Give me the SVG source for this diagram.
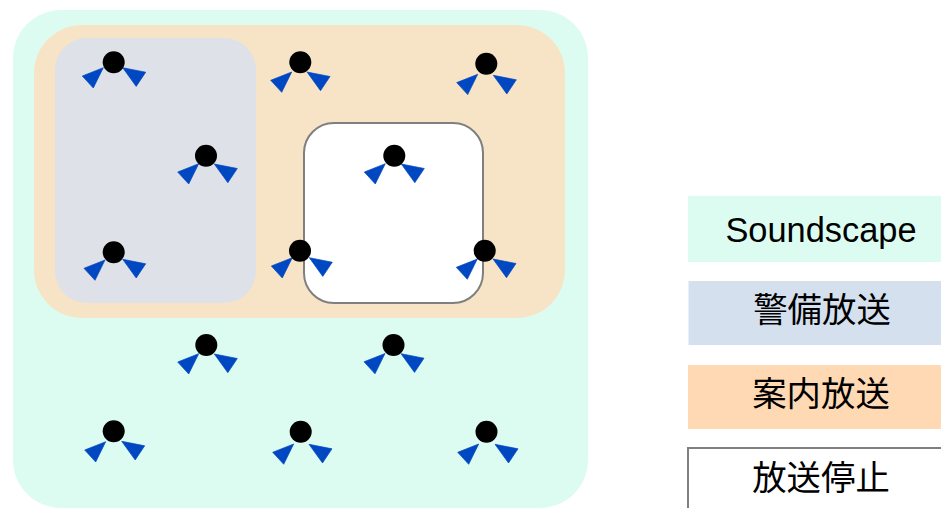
<svg xmlns="http://www.w3.org/2000/svg" width="941" height="508" viewBox="0 0 941 508">
<style>
.t{font-family:"Liberation Sans","Noto Sans CJK JP",sans-serif;font-size:34.4px;fill:#000;text-anchor:middle}
.j{font-size:34.4px}
.l{fill:#0047c2;stroke:#0047c2;stroke-width:.7px;stroke-linejoin:miter}
</style>
<defs>
<polygon id="tl" class="l" points="0,0 -21,8.3 -10,20.3"/>
<polygon id="tr" class="l" points="0,0 23,4.5 13.5,18.7"/>
<circle id="dot" r="11" fill="#000"/>
</defs>
<rect id="soundscape-area" x="13" y="10" width="575" height="498" rx="48" fill="#ddfcf1"/>
<rect id="guide-area" x="34" y="25" width="531" height="293" rx="48" fill="#f7e4c6"/>
<rect id="alert-area" x="55" y="38" width="201" height="265" rx="32" fill="#dee1e7"/>
<rect id="stop-area" x="304" y="123" width="179" height="180" rx="30" fill="#fff" stroke="#7f7f7f" stroke-width="2"/>
<g id="s1"><use href="#tl" x="103.3" y="67.7"/><use href="#tr" x="122.7" y="67.7"/><use href="#dot" x="113.7" y="62.3"/></g>
<g id="s2"><use href="#tl" x="291.7" y="72"/><use href="#tr" x="307" y="72"/><use href="#dot" x="300.3" y="62.3"/></g>
<g id="s3"><use href="#tl" x="477.7" y="74.3"/><use href="#tr" x="493.3" y="75.3"/><use href="#dot" x="486.3" y="63.7"/></g>
<g id="s4"><use href="#tl" x="198.7" y="163.7"/><use href="#tr" x="214.3" y="164"/><use href="#dot" x="206" y="155.7"/></g>
<g id="s5"><use href="#tl" x="385.3" y="163.7"/><use href="#tr" x="401.3" y="164"/><use href="#dot" x="394.3" y="155.7"/></g>
<g id="s6"><use href="#tl" x="105" y="260"/><use href="#tr" x="122.7" y="259.3"/><use href="#dot" x="113.7" y="252.3"/></g>
<g id="s7"><use href="#tl" x="292.3" y="257.7"/><use href="#tr" x="309.3" y="257.7"/><use href="#dot" x="300" y="250.7"/></g>
<g id="s8"><use href="#tl" x="477.3" y="259"/><use href="#tr" x="493" y="259"/><use href="#dot" x="484.7" y="250.7"/></g>
<g id="s9"><use href="#tl" x="198.7" y="353.7"/><use href="#tr" x="214.3" y="354"/><use href="#dot" x="206.3" y="345"/></g>
<g id="s10"><use href="#tl" x="385" y="353.5"/><use href="#tr" x="401" y="353.7"/><use href="#dot" x="393.5" y="345"/></g>
<g id="s11"><use href="#tl" x="105.7" y="441.7"/><use href="#tr" x="121.7" y="441.3"/><use href="#dot" x="113.7" y="431.3"/></g>
<g id="s12"><use href="#tl" x="293.7" y="444"/><use href="#tr" x="309" y="444.3"/><use href="#dot" x="300.7" y="431.7"/></g>
<g id="s13"><use href="#tl" x="478.7" y="444"/><use href="#tr" x="495" y="444.3"/><use href="#dot" x="486.5" y="431.7"/></g>
<g id="legend-soundscape"><rect x="688" y="196" width="253" height="66" fill="#ddfcf1"/><text class="t" x="821" y="242">Soundscape</text></g>
<g id="legend-alert"><rect x="688.5" y="281" width="253" height="64" fill="#d5e0ef"/><text class="t j" x="822" y="322">警備放送</text></g>
<g id="legend-guide"><rect x="688" y="365" width="253" height="64" fill="#fed9b4"/><text class="t j" x="821" y="406">案内放送</text></g>
<g id="legend-stop"><rect x="688" y="448" width="254" height="62" fill="#fff" stroke="#7f7f7f" stroke-width="2"/><text class="t j" x="821" y="490">放送停止</text></g>
<g id="connectors"/>
</svg>
